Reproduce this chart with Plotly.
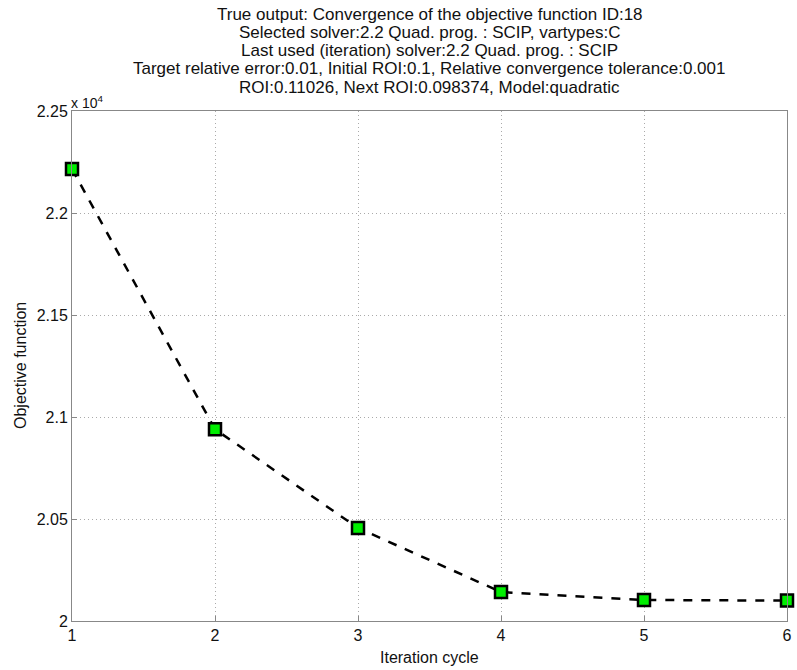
import plotly.graph_objects as go

iterations = [1, 2, 3, 4, 5, 6]
objective = [22216, 20940, 20456, 20142, 20103, 20100]
y_tick_vals = [20000, 20500, 21000, 21500, 22000, 22500]
y_tick_text = ["2", "2.05", "2.1", "2.15", "2.2", "2.25"]
x_tick_vals = [1, 2, 3, 4, 5, 6]

title_lines = [
    "True output: Convergence of the objective function ID:18",
    "Selected solver:2.2 Quad. prog. : SCIP, vartypes:C",
    "Last used (iteration) solver:2.2 Quad. prog. : SCIP",
    "Target relative error:0.01, Initial ROI:0.1, Relative convergence tolerance:0.001",
    "ROI:0.11026, Next ROI:0.098374, Model:quadratic",
]
x_title = "Iteration cycle"
y_title = "Objective function"

FONT = "Liberation Sans, Arial, sans-serif"
TXT = "#111111"
FS = 16

fig = go.Figure()
fig.add_trace(go.Scatter(
    x=iterations, y=objective, mode="lines+markers",
    line=dict(color="black", width=2.5, dash="dash"),
    marker=dict(symbol="square", size=12, color="#00ee00",
                line=dict(color="black", width=2.5)),
    cliponaxis=False, showlegend=False,
))

axis_common = dict(
    showline=True, linecolor="#888888", linewidth=1, mirror=True,
    ticks="inside", ticklen=5, tickcolor="#888888",
    showgrid=True, gridcolor="#aaaaaa", griddash="1px,3px", gridwidth=1,
    zeroline=False, tickfont=dict(family=FONT, size=FS, color=TXT),
    automargin=False,
)

fig.update_xaxes(range=[1, 6], tickvals=x_tick_vals, **axis_common)
fig.update_yaxes(range=[20000, 22500], tickvals=y_tick_vals, ticktext=y_tick_text, **axis_common)

annotations = []
for i, line in enumerate(title_lines):
    annotations.append(dict(
        text=line, xref="paper", yref="paper", x=0.5, y=1, yshift=97 - 18.3 * i,
        xanchor="center", yanchor="middle", showarrow=False,
        font=dict(family=FONT, size=17, color=TXT),
    ))
annotations.append(dict(
    text="x 10<sup>4</sup>", xref="paper", yref="paper", x=0, y=1, yshift=9, xshift=-3,
    xanchor="left", yanchor="middle", showarrow=False,
    font=dict(family=FONT, size=14, color=TXT),
))
annotations.append(dict(
    text=x_title, xref="paper", yref="paper", x=0.5, y=0, yshift=-36,
    xanchor="center", yanchor="middle", showarrow=False,
    font=dict(family=FONT, size=FS, color=TXT),
))
annotations.append(dict(
    text=y_title, xref="paper", yref="paper", x=0, y=0.5, xshift=-52,
    xanchor="center", yanchor="middle", showarrow=False, textangle=-90,
    font=dict(family=FONT, size=FS, color=TXT),
))

fig.update_layout(
    width=797, height=670,
    margin=dict(l=72, r=10, t=111, b=49),
    paper_bgcolor="white", plot_bgcolor="white",
    annotations=annotations,
    font=dict(family=FONT),
)

# remove the page's default 8px body margin so the figure fills the window
fig.write_html("out.html",
               config={"displayModeBar": False},
               post_script="document.body.style.margin='0';document.body.style.overflow='hidden';")
